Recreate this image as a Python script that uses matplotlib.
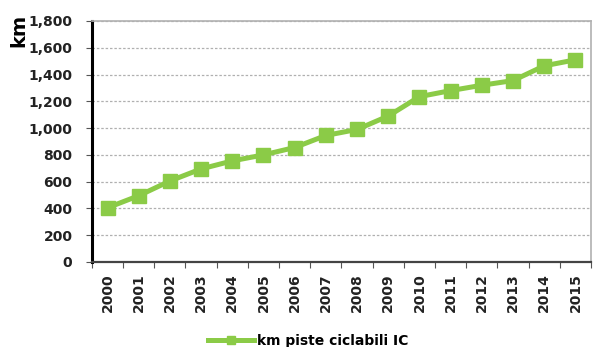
import matplotlib.pyplot as plt
import numpy as np

years = ['2000', '2001', '2002', '2003', '2004', '2005', '2006', '2007',
         '2008', '2009', '2010', '2011', '2012', '2013', '2014', '2015']
km = [405, 495, 605, 695, 755, 800, 855, 945, 990, 1090, 1235, 1280, 1320, 1355, 1465, 1510]
yticks = [0, 200, 400, 600, 800, 1000, 1200, 1400, 1600, 1800]
green = '#8bcb47'

plt.rcParams['font.family'] = 'DejaVu Sans'
fig = plt.figure(figsize=(5.93, 3.47), dpi=100)
ax = fig.add_axes([0.155, 0.245, 0.8416, 0.6945])

x = np.arange(len(years))
ax.plot(x, km, color=green, linewidth=3.6, marker='s', markersize=10.5,
        label='km piste ciclabili IC', zorder=3)

ax.set_xlim(-0.5, len(years) - 0.5)
ax.set_ylim(0, 1800)
ax.set_yticks(yticks)
ax.set_yticklabels(['{:,}'.format(v) for v in yticks], fontsize=10, fontweight='bold', color='#222222')
ax.set_xticks(x)
ax.set_xticklabels(years, rotation=90, fontsize=10, fontweight='bold', color='#222222')
ax.tick_params(axis='x', length=0, pad=8)
ax.tick_params(axis='y', length=4, width=0.8, color='#555555', pad=10)
# ticks between categories
ax.set_xticks(np.arange(-0.5, len(years)), minor=True)
ax.tick_params(axis='x', which='minor', length=4, width=0.8, color='#555555')

ax.grid(axis='y', linestyle=(0, (2, 1.5)), color='#b0b0b0', linewidth=0.9)
ax.set_axisbelow(True)
for s in ['top', 'right']:
    ax.spines[s].set_color('#b0b0b0')
    ax.spines[s].set_linewidth(1.2)
ax.spines['left'].set_color('black')
ax.spines['left'].set_linewidth(2.2)
ax.spines['bottom'].set_color('#444444')
ax.spines['bottom'].set_linewidth(1.6)

fig.text(0.032, 0.912, 'km', rotation=90, fontsize=14, fontweight='bold', ha='center', va='center')

leg = fig.legend(loc='center', bbox_to_anchor=(0.52, 0.018), frameon=False,
                 prop={'weight': 'bold', 'size': 10}, handlelength=3.3, handletextpad=0.2,
                 markerscale=0.6)

fig.savefig('out.png', dpi=100)
